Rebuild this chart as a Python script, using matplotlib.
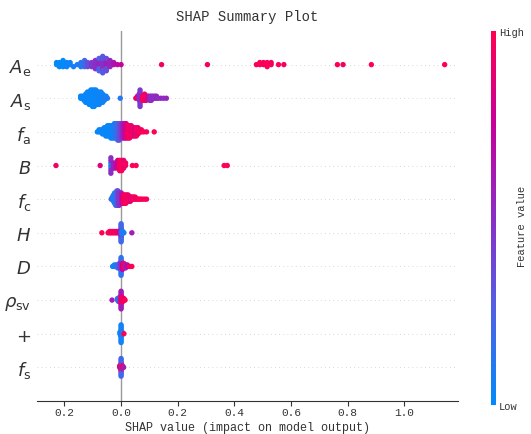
import numpy as np
import matplotlib
matplotlib.use("Agg")
import matplotlib.pyplot as plt
from matplotlib.colors import LinearSegmentedColormap
from matplotlib.cm import ScalarMappable

plt.rcParams['font.family'] = ['Liberation Mono', 'DejaVu Sans']

# ---- data ----
feature_labels = [r"$A_{\mathrm{e}}$", r"$A_{\mathrm{s}}$", r"$f_{\mathrm{a}}$", r"$B$",
                  r"$f_{\mathrm{c}}$", r"$H$", r"$D$", r"$\rho_{\mathrm{sv}}$", r"$+$",
                  r"$f_{\mathrm{s}}$"]

# (shap value, number of samples, feature value 0..1)
ae = [(-0.228, 2, 0.02), (-0.218, 3, 0.03), (-0.205, 4, 0.0), (-0.192, 3, 0.05),
      (-0.18, 2, 0.04), (-0.168, 1, 0.08), (-0.155, 1, 0.1),
      (-0.142, 3, 0.1), (-0.129, 4, 0.2), (-0.118, 3, 0.35),
      (-0.104, 3, 0.45), (-0.091, 5, 0.5), (-0.078, 4, 0.55), (-0.078, 3, 0.25),
      (-0.065, 5, 0.5), (-0.065, 4, 0.3), (-0.052, 4, 0.6), (-0.052, 3, 0.35),
      (-0.039, 4, 0.55), (-0.026, 2, 0.65), (-0.013, 1, 0.7), (0.0, 1, 0.75),
      (0.143, 1, 0.95), (0.305, 1, 0.95), (0.478, 1, 0.95), (0.49, 2, 1.0),
      (0.503, 2, 0.95), (0.516, 3, 1.0), (0.53, 2, 0.95), (0.556, 1, 1.0),
      (0.575, 1, 0.95), (0.764, 1, 1.0), (0.784, 1, 0.95), (0.884, 1, 1.0),
      (1.143, 1, 1.0)]
as_ = [(-0.143, 2, 0.02), (-0.137, 2, 0.05), (-0.131, 3, 0.03), (-0.125, 5, 0.0),
       (-0.119, 6, 0.05), (-0.113, 7, 0.02), (-0.107, 8, 0.04), (-0.101, 9, 0.0),
       (-0.095, 9, 0.03), (-0.089, 8, 0.05), (-0.083, 7, 0.02), (-0.077, 7, 0.06),
       (-0.071, 6, 0.03), (-0.065, 5, 0.05), (-0.059, 3, 0.08), (-0.053, 2, 0.06),
       (-0.048, 1, 0.1), (-0.003, 1, 0.1),
       (0.052, 1, 0.95), (0.058, 2, 0.9), (0.064, 4, 0.5), (0.067, 9, 0.45),
       (0.071, 3, 0.55), (0.077, 3, 1.0), (0.083, 4, 0.95), (0.089, 3, 0.9),
       (0.095, 2, 0.85), (0.101, 3, 0.55), (0.107, 3, 0.5), (0.113, 2, 0.55),
       (0.119, 2, 0.5), (0.125, 2, 0.55), (0.131, 1, 0.5), (0.14, 1, 0.55),
       (0.15, 1, 0.5), (0.16, 1, 0.55)]
fa = [(-0.084, 1, 0.02), (-0.078, 2, 0.05), (-0.072, 2, 0.0), (-0.066, 3, 0.03),
      (-0.06, 4, 0.05), (-0.054, 5, 0.02), (-0.048, 6, 0.04), (-0.042, 6, 0.0),
      (-0.036, 7, 0.06), (-0.03, 7, 0.03), (-0.024, 8, 0.08), (-0.018, 8, 0.12),
      (-0.012, 9, 0.22), (-0.006, 9, 0.32), (0.0, 8, 0.42), (0.006, 8, 0.55),
      (0.012, 8, 0.68), (0.018, 8, 0.82), (0.024, 7, 0.92), (0.03, 7, 0.97),
      (0.036, 6, 0.9), (0.042, 5, 0.95), (0.048, 5, 0.85), (0.054, 5, 0.95),
      (0.06, 4, 0.9), (0.066, 2, 1.0), (0.072, 2, 0.95), (0.08, 1, 1.0),
      (0.09, 1, 0.95), (0.117, 1, 1.0)]
b = [(-0.23, 1, 0.95), (-0.074, 1, 0.85), (-0.036, 3, 0.1), (-0.036, 4, 0.5),
     (-0.028, 3, 0.55), (-0.02, 3, 0.65), (-0.012, 4, 0.8), (-0.005, 5, 0.95),
     (0.002, 5, 1.0), (0.009, 4, 0.9), (0.016, 2, 0.95), (0.04, 1, 1.0),
     (0.053, 1, 1.0), (0.364, 1, 1.0), (0.375, 1, 1.0)]
fc = [(-0.035, 1, 0.2), (-0.031, 2, 0.15), (-0.027, 4, 0.1), (-0.023, 6, 0.05),
      (-0.019, 7, 0.15), (-0.015, 8, 0.25), (-0.011, 8, 0.35), (-0.007, 7, 0.5),
      (-0.003, 6, 0.4), (0.001, 6, 0.6), (0.005, 5, 0.8), (0.009, 5, 0.9),
      (0.013, 5, 0.95), (0.017, 5, 1.0), (0.021, 4, 0.95), (0.025, 4, 0.9),
      (0.029, 3, 1.0), (0.033, 3, 0.85), (0.037, 2, 0.95), (0.041, 2, 0.9),
      (0.045, 2, 1.0), (0.05, 2, 0.95), (0.055, 1, 0.9), (0.06, 1, 1.0),
      (0.065, 1, 0.95), (0.07, 1, 1.0), (0.076, 1, 0.95), (0.083, 1, 1.0),
      (0.09, 1, 0.95)]
h = [(-0.068, 1, 1.0), (-0.046, 1, 0.95), (-0.041, 2, 1.0), (-0.036, 2, 0.95),
     (-0.031, 2, 1.0), (-0.026, 2, 0.9), (-0.021, 2, 1.0), (-0.016, 2, 0.95),
     (-0.011, 2, 0.9), (-0.006, 2, 0.85), (-0.002, 3, 0.6), (0.0, 9, 0.5),
     (0.0, 6, 0.2), (0.003, 3, 0.1), (0.006, 2, 0.05), (0.01, 1, 0.1),
     (0.038, 1, 0.6)]
d = [(-0.03, 1, 0.05), (-0.024, 2, 0.05), (-0.018, 2, 0.1), (-0.012, 3, 0.15),
     (-0.006, 4, 0.35), (0.0, 8, 0.5), (0.0, 5, 0.15), (0.005, 5, 0.75),
     (0.01, 4, 0.95), (0.016, 3, 0.6), (0.022, 2, 0.7), (0.03, 1, 0.95),
     (0.038, 1, 1.0)]
rho = [(-0.032, 1, 0.6), (-0.013, 2, 0.1), (-0.009, 3, 0.15), (-0.005, 4, 0.3),
       (-0.002, 3, 0.5), (0.0, 7, 0.95), (0.0, 6, 0.6), (0.003, 4, 0.9),
       (0.006, 3, 0.95), (0.01, 2, 0.9), (0.014, 1, 1.0)]
plus = [(-0.004, 2, 0.05), (-0.002, 3, 0.05), (0.0, 13, 0.05), (0.002, 3, 0.1),
        (0.004, 2, 0.08), (0.01, 1, 1.0)]
fs = [(-0.005, 2, 0.9), (-0.002, 3, 0.6), (0.0, 7, 0.95), (0.0, 6, 0.2),
      (0.002, 3, 0.5), (0.005, 2, 0.95), (0.009, 1, 0.6)]

rows = [ae, as_, fa, b, fc, h, d, rho, plus, fs]

xticks = [-0.2, 0.0, 0.2, 0.4, 0.6, 0.8, 1.0]
xtick_labels = ["0.2", "0.0", "0.2", "0.4", "0.6", "0.8", "1.0"]

cmap = LinearSegmentedColormap.from_list(
    "red_blue", ["#008bfb", "#4f61e6", "#8a2ec8", "#c7009a", "#ff0052"])


def swarm_offsets(vals, row_height=0.34, nbins=100):
    # same binning idea as shap's beeswarm
    quant = np.round(nbins * (vals - vals.min()) / (vals.max() - vals.min() + 1e-8))
    order = np.argsort(quant, kind="stable")
    ys = np.zeros(len(vals))
    layer, last = 0, None
    for i in order:
        if quant[i] != last:
            layer = 0
        ys[i] = np.ceil(layer / 2) * ((layer % 2) * 2 - 1)
        layer += 1
        last = quant[i]
    ys *= 0.9 * (row_height / np.max(ys + 1))
    return ys


fig = plt.figure(figsize=(5.31, 4.35), dpi=100)
ax = fig.add_axes([0.0697, 0.0759, 0.7928, 0.8506])
n = len(rows)

for i, row in enumerate(rows):
    pos = n - 1 - i
    vals = np.repeat([r[0] for r in row], [r[1] for r in row])
    cols = np.repeat([r[2] for r in row], [r[1] for r in row])
    ys = swarm_offsets(vals)
    ax.axhline(pos, color="#cccccc", lw=0.6, dashes=(1, 4), zorder=-1)
    ax.scatter(vals, pos + ys, c=cols, cmap=cmap, vmin=0, vmax=1, s=15,
               linewidth=0, zorder=3)

ax.axvline(0, color="#999999", lw=1, zorder=-1)
ax.set_xlim(-0.297, 1.19)
ax.set_ylim(-1, n)
ax.set_yticks(range(n))
ax.set_yticklabels(feature_labels[::-1], fontsize=13, family='DejaVu Sans',
                   color="#333333")
ax.tick_params('y', length=0, pad=4)
ax.set_xticks(xticks)
ax.set_xticklabels(xtick_labels)
ax.tick_params('x', labelsize=8, length=3.5, pad=1, color="#333333",
               labelcolor="#333333")
for s in ["top", "right", "left"]:
    ax.spines[s].set_visible(False)
ax.spines["bottom"].set_color("#333333")
ax.set_xlabel("SHAP value (impact on model output)", fontsize=8.5, color="#333333",
              labelpad=3)
ax.set_title("SHAP Summary Plot", fontsize=10, pad=8, color="#333333")

cax = fig.add_axes([0.9247, 0.0667, 0.0094, 0.86])
sm = ScalarMappable(cmap=cmap)
sm.set_array([0, 1])
cb = fig.colorbar(sm, cax=cax, ticks=[0, 1])
cb.set_ticklabels(["Low", "High"])
cb.outline.set_visible(False)
cax.tick_params(length=0, labelsize=7.5, labelcolor="#333333", pad=2)
fig.text(0.983, 0.48, "Feature value", rotation=90, ha="center", va="center",
         fontsize=7.5, color="#333333")

fig.savefig("out.png", dpi=100)
